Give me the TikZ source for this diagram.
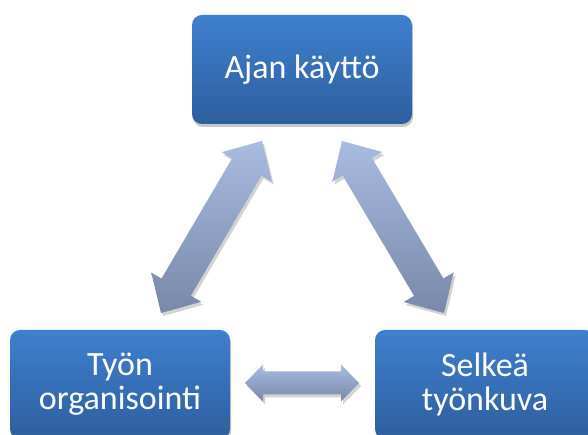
\documentclass[tikz,border=0pt]{standalone}
\usepackage{fontspec}
\setmainfont{Carlito}
\usetikzlibrary{calc,shadows}
\definecolor{boxtop}{RGB}{62,128,207}
\definecolor{boxbot}{RGB}{46,94,158}
\definecolor{arrtop}{RGB}{168,188,224}
\definecolor{arrbot}{RGB}{120,136,168}
\tikzset{
  x=1pt, y=1pt,
  topicbox/.style={rounded corners=10pt, minimum width=220pt, minimum height=109pt,
    top color=boxtop, bottom color=boxbot, text=white, align=center, inner sep=0pt,
    font=\fontsize{34}{34}\selectfont,
    drop shadow={shadow xshift=1pt, shadow yshift=-3pt, opacity=0.3, fill=black!70}},
  fatarrowstyle/.style={top color=arrtop, bottom color=arrbot,
    drop shadow={shadow xshift=2pt, shadow yshift=-3pt, opacity=0.25, fill=black!70}},
}
\newcommand\fatarrow[5]{%
  \coordinate (#1h) at ($(#1)!#5!(#2)$);
  \coordinate (#2h) at ($(#2)!#5!(#1)$);
  \path[fatarrowstyle] (#1) -- ($(#1h)!#3!90:(#1)$) -- ($(#1h)!#4!90:(#1)$)
    -- ($(#2h)!#4!-90:(#2)$) -- ($(#2h)!#3!-90:(#2)$) -- (#2)
    -- ($(#2h)!#3!90:(#2)$) -- ($(#2h)!#4!90:(#2)$)
    -- ($(#1h)!#4!-90:(#1)$) -- ($(#1h)!#3!-90:(#1)$) -- cycle;
}
\begin{document}
\begin{tikzpicture}
  \useasboundingbox (0,0) rectangle (588,435);
  \clip (0,0) rectangle (588,435);
  \fill[white] (0,0) rectangle (588,435);

  \node[topicbox] (aika) at (302,365.5) {Ajan käyttö};
  \node[topicbox] (org) at (120,50.5) {Työn\\organisointi};
  \node[topicbox] (kuva) at (485,50.5) {Selkeä\\työnkuva};

  \coordinate (L1) at (262,294);
  \coordinate (L2) at (161,122);
  \coordinate (R1) at (342,294);
  \coordinate (R2) at (444,122);
  \coordinate (H1) at (245,52);
  \coordinate (H2) at (359,52);

  \fatarrow{L1}{L2}{29pt}{17pt}{30pt}
  \fatarrow{R1}{R2}{29pt}{17pt}{30pt}
  \fatarrow{H1}{H2}{18.5pt}{11.5pt}{18pt}
\end{tikzpicture}
\end{document}
